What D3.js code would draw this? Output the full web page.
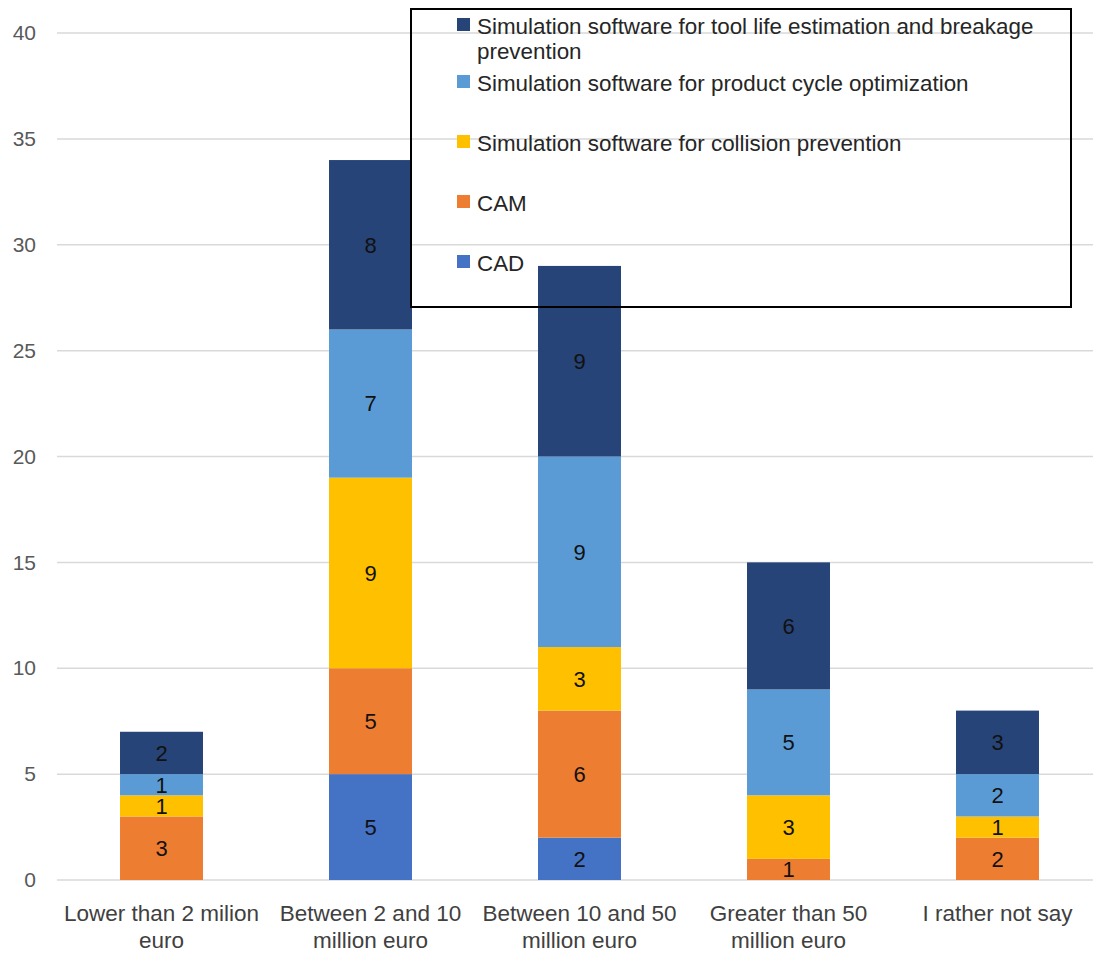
<!DOCTYPE html>
<html>
<head>
<meta charset="utf-8">
<script src="https://cdn.jsdelivr.net/npm/d3@7"></script>
<style>
  body { margin: 0; background: #fff; }
  svg { font-family: "Liberation Sans", Arial, sans-serif; }
</style>
</head>
<body>
<div id="chart"></div>
<script>
// data
const categories = [
  ['Lower than 2 milion', 'euro'],
  ['Between 2 and 10', 'million euro'],
  ['Between 10 and 50', 'million euro'],
  ['Greater than 50', 'million euro'],
  ['I rather not say']
];
const seriesNames = [
  'CAD',
  'CAM',
  'Simulation software for collision prevention',
  'Simulation software for product cycle optimization',
  'Simulation software for tool life estimation and breakage prevention'
];
const cad = [0, 5, 2, 0, 0];
const cam = [3, 5, 6, 1, 2];
const collision = [1, 9, 3, 3, 1];
const productCycle = [1, 7, 9, 5, 2];
const toolLife = [2, 8, 9, 6, 3];
const yTicks = [0, 5, 10, 15, 20, 25, 30, 35, 40];
const colors = ['#4472C4', '#ED7D31', '#FFC000', '#5B9BD5', '#264478'];

const width = 1093, height = 959;
const seriesValues = [cad, cam, collision, productCycle, toolLife];

const svg = d3.select('#chart').append('svg')
  .attr('width', width)
  .attr('height', height);

const x = d3.scaleBand()
  .domain(d3.range(categories.length))
  .range([57, 1102])
  .paddingInner(0.603)
  .paddingOuter(0.3015);

const y = d3.scaleLinear()
  .domain([0, 40])
  .range([880, 33]);

// gridlines
svg.append('g')
  .selectAll('line')
  .data(yTicks)
  .enter().append('line')
  .attr('x1', 57)
  .attr('x2', width)
  .attr('y1', d => y(d))
  .attr('y2', d => y(d))
  .attr('stroke', '#d9d9d9')
  .attr('stroke-width', 1.5);

// y axis labels
const yAxis = svg.append('g')
  .attr('transform', 'translate(42,0)')
  .call(d3.axisLeft(y).tickValues(yTicks).tickSize(0).tickPadding(6));
yAxis.select('.domain').remove();
yAxis.selectAll('text')
  .attr('font-size', 21)
  .attr('fill', '#595959')
  .attr('font-family', '"Liberation Sans", Arial, sans-serif');

// stack
const rows = categories.map((c, i) => {
  const r = { i };
  seriesValues.forEach((s, k) => { r[k] = s[i]; });
  return r;
});
const stack = d3.stack().keys(d3.range(seriesValues.length))(rows);

const layers = svg.append('g')
  .selectAll('g')
  .data(stack)
  .enter().append('g')
  .attr('fill', (d, k) => colors[k]);

layers.selectAll('rect')
  .data(d => d.filter(p => p[1] - p[0] > 0))
  .enter().append('rect')
  .attr('x', d => x(d.data.i))
  .attr('width', x.bandwidth())
  .attr('y', d => y(d[1]))
  .attr('height', d => y(d[0]) - y(d[1]));

layers.selectAll('text')
  .data(d => d.filter(p => p[1] - p[0] > 0))
  .enter().append('text')
  .attr('x', d => x(d.data.i) + x.bandwidth() / 2)
  .attr('y', d => (y(d[0]) + y(d[1])) / 2)
  .attr('dy', '0.36em')
  .attr('text-anchor', 'middle')
  .attr('font-size', 22)
  .attr('fill', '#111')
  .text(d => d[1] - d[0]);

// category labels
const catLabels = svg.append('g')
  .selectAll('text')
  .data(categories)
  .enter().append('text')
  .attr('x', (d, i) => x(i) + x.bandwidth() / 2)
  .attr('y', 921)
  .attr('text-anchor', 'middle')
  .attr('font-size', 22.5)
  .attr('fill', '#404040');
catLabels.selectAll('tspan')
  .data(d => d)
  .enter().append('tspan')
  .attr('x', function () { return d3.select(this.parentNode).attr('x'); })
  .attr('dy', (d, j) => j === 0 ? 0 : 27)
  .text(d => d);

// legend
const legend = svg.append('g');
legend.append('rect')
  .attr('x', 411)
  .attr('y', 9)
  .attr('width', 660)
  .attr('height', 298)
  .attr('fill', 'none')
  .attr('stroke', '#000')
  .attr('stroke-width', 2);

const legendOrder = [4, 3, 2, 1, 0];
const legendLines = [
  ['Simulation software for tool life estimation and breakage', 'prevention'],
  ['Simulation software for product cycle optimization'],
  ['Simulation software for collision prevention'],
  ['CAM'],
  ['CAD']
];
const legendBaselines = [34, 91, 151, 211, 271];
const legendItems = legend.selectAll('g.item')
  .data(legendOrder)
  .enter().append('g')
  .attr('class', 'item')
  .attr('transform', (d, j) => `translate(0,${legendBaselines[j]})`);

legendItems.append('rect')
  .attr('x', 457)
  .attr('y', -16)
  .attr('width', 13)
  .attr('height', 13)
  .attr('fill', d => colors[d]);

const legendText = legendItems.append('text')
  .attr('x', 477)
  .attr('y', 0)
  .attr('font-size', 22.4)
  .attr('fill', '#262626');
legendText.selectAll('tspan')
  .data((d, j) => legendLines[j])
  .enter().append('tspan')
  .attr('x', 477)
  .attr('dy', (d, j) => j === 0 ? 0 : 25)
  .text(d => d);
</script>
</body>
</html>
